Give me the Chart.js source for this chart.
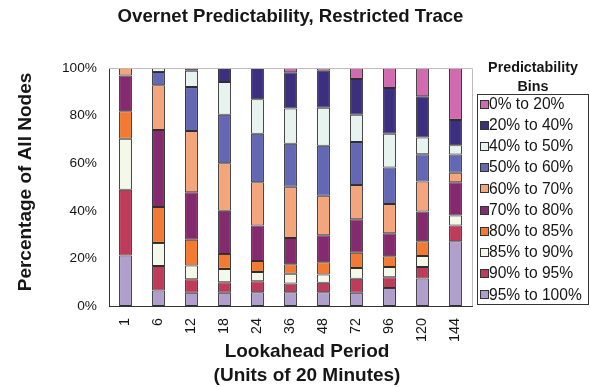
<!DOCTYPE html>
<html>
<head>
<meta charset="utf-8">
<script src="https://cdn.jsdelivr.net/npm/chart.js@4.4.0/dist/chart.umd.min.js"></script>
<style>
  html, body { margin: 0; padding: 0; background: #fff; }
  #wrap { width: 590px; height: 387px; position: relative; }
</style>
</head>
<body>
<div id="wrap"><canvas id="c" width="590" height="387"></canvas></div>
<script>
// Lookahead periods (units of 20 minutes)
const periods = ['1', '6', '12', '18', '24', '36', '48', '72', '96', '120', '144'];

// Share of nodes (%) in each predictability bin, listed bottom to top of the stack
const bin95to100 = [21.2, 6.5, 5.6, 5.6, 5.8, 5.8, 5.8, 5.6, 7.6, 11.6, 27.2];
const bin90to95  = [27.6, 10.3, 5.6, 4.4, 4.6, 3.7, 4.0, 5.8, 4.5, 4.8, 6.6];
const bin85to90  = [21.5, 9.7, 5.8, 5.6, 3.9, 4.1, 3.4, 4.6, 4.3, 4.6, 4.2];
const bin80to85  = [11.5, 15.1, 10.8, 6.3, 4.6, 3.9, 5.2, 6.4, 4.5, 6.2, 0];
const bin70to80  = [15.1, 32.4, 20.0, 18.1, 14.9, 11.1, 11.3, 14.1, 9.7, 12.5, 14.0];
const bin60to70  = [3.1, 18.8, 25.7, 20.0, 18.2, 21.5, 16.6, 14.3, 12.3, 12.6, 4.0];
const bin50to60  = [0, 5.5, 18.5, 20.4, 20.4, 18.1, 21.0, 18.1, 15.3, 11.5, 7.7];
const bin40to50  = [0, 1.7, 6.9, 13.7, 14.5, 14.8, 16.0, 11.5, 14.2, 7.0, 3.9];
const bin20to40  = [0, 0, 1.1, 5.9, 13.1, 15.2, 15.6, 15.0, 19.2, 17.3, 10.6];
const bin0to20   = [0, 0, 0, 0, 0, 1.8, 1.1, 4.6, 8.4, 11.9, 21.8];

const yTickValues = [0, 20, 40, 60, 80, 100];

const FONT = '"Liberation Sans", Arial, Helvetica, sans-serif';
const INK = '#161616';

const bins = [
  { label: '95% to 100%', data: bin95to100, color: '#b09fcc' },
  { label: '90% to 95%',  data: bin90to95,  color: '#bf3b5a' },
  { label: '85% to 90%',  data: bin85to90,  color: '#f4f8e8' },
  { label: '80% to 85%',  data: bin80to85,  color: '#f27a32' },
  { label: '70% to 80%',  data: bin70to80,  color: '#862a6f' },
  { label: '60% to 70%',  data: bin60to70,  color: '#f4a57b' },
  { label: '50% to 60%',  data: bin50to60,  color: '#6468b4' },
  { label: '40% to 50%',  data: bin40to50,  color: '#e7f3ef' },
  { label: '20% to 40%',  data: bin20to40,  color: '#3d2f80' },
  { label: '0% to 20%',   data: bin0to20,   color: '#d16aae' }
];

// Light frame on the top and right of the plot area
const plotFrame = {
  id: 'plotFrame',
  afterDraw(chart) {
    const { ctx, chartArea: a } = chart;
    ctx.save();
    ctx.strokeStyle = '#c4b9b9';
    ctx.lineWidth = 1;
    ctx.beginPath();
    ctx.moveTo(a.left, a.top + 0.5);
    ctx.lineTo(a.right + 0.5, a.top + 0.5);
    ctx.lineTo(a.right + 0.5, a.bottom);
    ctx.stroke();
    ctx.restore();
  }
};

// Axis captions
const axisCaptions = {
  id: 'axisCaptions',
  afterDraw(chart) {
    const ctx = chart.ctx;
    ctx.save();
    ctx.fillStyle = INK;
    ctx.font = 'bold 19px ' + FONT;
    ctx.textAlign = 'center';
    ctx.textBaseline = 'middle';
    ctx.fillText('Lookahead Period', 307, 352);
    ctx.fillText('(Units of 20 Minutes)', 307, 376);
    ctx.translate(26, 182);
    ctx.rotate(-Math.PI / 2);
    ctx.fillText('Percentage of All Nodes', 0, 0);
    ctx.restore();
  }
};

// Boxed legend listing bins from the top of the stack down
const binLegend = {
  id: 'binLegend',
  afterDraw(chart) {
    const ctx = chart.ctx;
    ctx.save();
    ctx.fillStyle = INK;
    ctx.textAlign = 'center';
    ctx.textBaseline = 'middle';
    ctx.font = 'bold 14.3px ' + FONT;
    ctx.fillText('Predictability', 533, 68);
    ctx.fillText('Bins', 533, 87);

    ctx.strokeStyle = '#333';
    ctx.lineWidth = 1;
    ctx.strokeRect(477.5, 94.5, 111, 210);

    const items = chart.data.datasets.slice().reverse();
    ctx.textAlign = 'left';
    ctx.font = '15.6px ' + FONT;
    items.forEach((ds, i) => {
      const cy = 104.5 + i * 21.2;
      ctx.fillStyle = ds.backgroundColor;
      ctx.fillRect(480.5, Math.round(cy) - 4.5, 8, 8);
      ctx.strokeStyle = '#333';
      ctx.strokeRect(480.5, Math.round(cy) - 4.5, 8, 8);
      ctx.fillStyle = INK;
      ctx.fillText(ds.label, 489, cy);
    });
    ctx.restore();
  }
};

new Chart(document.getElementById('c'), {
  type: 'bar',
  data: {
    labels: periods,
    datasets: bins.map(b => ({
      label: b.label,
      data: b.data,
      backgroundColor: b.color,
      borderColor: '#2e2e2e',
      borderWidth: 1,
      borderSkipped: false,
      categoryPercentage: 1.0,
      barPercentage: 0.39
    }))
  },
  options: {
    responsive: false,
    animation: false,
    devicePixelRatio: 1,
    layout: { padding: { left: 0, right: 118, top: 0, bottom: 0 } },
    plugins: {
      legend: { display: false },
      tooltip: { enabled: false },
      title: {
        display: true,
        text: 'Overnet Predictability, Restricted Trace',
        fullSize: false,
        color: INK,
        font: { family: FONT, size: 18.6, weight: 'bold', lineHeight: 1.2 },
        padding: { top: 6, bottom: 39.7 }
      }
    },
    scales: {
      x: {
        stacked: true,
        grid: { display: false, drawTicks: false },
        border: { display: true, color: '#333', width: 1 },
        ticks: {
          color: INK,
          font: { family: FONT, size: 14.4 },
          minRotation: 90,
          maxRotation: 90,
          padding: 12,
          autoSkip: false
        },
        afterFit(scale) { scale.height = 81; }
      },
      y: {
        stacked: true,
        min: 0,
        max: 100,
        grid: { display: false, drawTicks: false },
        border: { display: true, color: '#333', width: 1 },
        afterBuildTicks(scale) { scale.ticks = yTickValues.map(v => ({ value: v })); },
        ticks: {
          color: INK,
          font: { family: FONT, size: 13.7 },
          padding: 12,
          callback: v => v + '%'
        },
        afterFit(scale) { scale.width = 109; }
      }
    }
  },
  plugins: [plotFrame, axisCaptions, binLegend]
});
</script>
</body>
</html>
